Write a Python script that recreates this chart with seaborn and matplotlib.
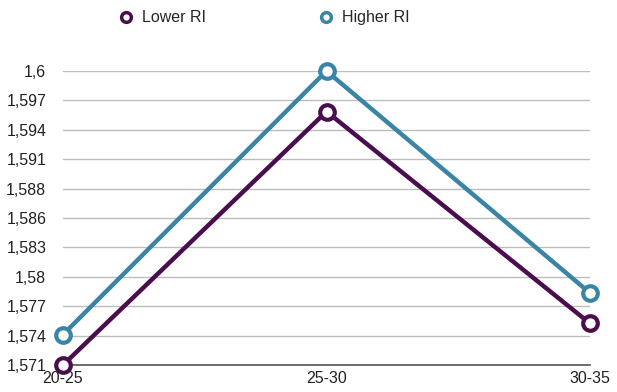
import numpy as np
import pandas as pd
import seaborn as sns
import matplotlib.pyplot as plt
from matplotlib.lines import Line2D
from matplotlib.ticker import FuncFormatter

sns.set_theme(style="white")
plt.rcParams['font.family'] = ['Liberation Sans', 'DejaVu Sans']

# data
ages = ["20-25", "25-30", "30-35"]
lower_ri = [1.5710, 1.5960, 1.5751]
higher_ri = [1.5740, 1.6000, 1.5781]
series_names = ["Lower RI", "Higher RI"]
colors = ["#4a0e4e", "#3a84a5"]

df = pd.DataFrame({
    "age": ages * 2,
    "ri": lower_ri + higher_ri,
    "group": [series_names[0]] * 3 + [series_names[1]] * 3,
})
df["pos"] = df["age"].map({a: i for i, a in enumerate(ages)})

fig = plt.figure(figsize=(6.17, 3.92), dpi=100)
ax = fig.add_axes([63 / 617, 1 - 365 / 392, (590 - 63) / 617, (365 - 71) / 392])

sns.lineplot(data=df, x="pos", y="ri", hue="group", palette=colors,
             hue_order=series_names, linewidth=3.2, marker="o",
             markersize=10.5, markerfacecolor="white", markeredgewidth=3,
             legend=False, ax=ax, clip_on=False, zorder=3)
for line, c in zip(ax.lines, colors):
    line.set_markeredgecolor(c)

ax.set_xlim(0, 2)
ax.set_ylim(1.571, 1.6)
ax.set_xticks(range(len(ages)))
ax.set_xticklabels(ages)
ax.set_yticks(np.linspace(1.571, 1.6, 11))
ax.yaxis.set_major_formatter(FuncFormatter(
    lambda v, p: f"{v:.3f}".rstrip("0").rstrip(".").replace(".", ",")))
ax.grid(axis="y", color="#bdbdbd", linewidth=1)
ax.set_axisbelow(True)
for s in ["top", "right", "left"]:
    ax.spines[s].set_visible(False)
ax.spines["bottom"].set_color("#555555")
ax.spines["bottom"].set_linewidth(1.2)
ax.tick_params(axis="y", length=0, pad=12, labelsize=11.5, labelcolor="#222222")
ax.tick_params(axis="x", length=0, pad=4, labelsize=11.5, labelcolor="#222222")
ax.set_xlabel("")
ax.set_ylabel("")

handles = [Line2D([], [], linestyle="none", marker="o", markersize=7,
                  markerfacecolor="white", markeredgecolor=c, markeredgewidth=2.5)
           for c in colors]
fig.legend(handles, series_names, loc="center", bbox_to_anchor=(0.427, 0.955),
           ncol=2, frameon=False, fontsize=11.5, columnspacing=7.0,
           handletextpad=0.5, handlelength=1)

fig.savefig("out.png", dpi=100)
